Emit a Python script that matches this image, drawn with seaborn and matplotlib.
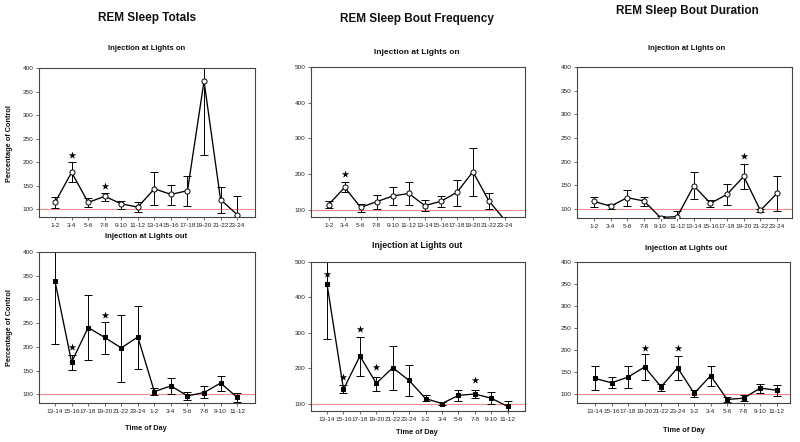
import numpy as np
import pandas as pd
import matplotlib
matplotlib.use("Agg")
import matplotlib.pyplot as plt
import seaborn as sns

# ---------------- data ----------------
labels_on = ["1-2", "3-4", "5-6", "7-8", "9-10", "11-12", "13-14", "15-16",
             "17-18", "19-20", "21-22", "23-24"]
labels_out = ["13-14", "15-16", "17-18", "19-20", "21-22", "23-24", "1-2",
              "3-4", "5-6", "7-8", "9-10", "11-12"]

totals_on = [114, 178, 114, 127, 111, 104, 143, 131, 139, 372, 120, 88]
totals_on_lo = [102, 157, 104, 118, 101, 93, 108, 108, 107, 214, 91, 48]
totals_on_hi = [125, 200, 123, 135, 118, 115, 179, 152, 171, 530, 147, 128]
totals_on_star_idx = [1, 3]
totals_on_star_y = [214, 150]

totals_out = [338, 168, 241, 220, 198, 221, 106, 118, 97, 104, 124, 94]
totals_out_lo = [207, 152, 172, 186, 127, 154, 99, 102, 88, 92, 107, 84]
totals_out_hi = [469, 184, 309, 253, 268, 286, 113, 134, 106, 117, 139, 104]
totals_out_star_idx = [1, 3]
totals_out_star_y = [200, 267]

freq_on = [114, 162, 106, 122, 138, 145, 111, 123, 148, 206, 124, 70]
freq_on_lo = [103, 149, 93, 102, 112, 114, 95, 107, 111, 138, 101, 70]
freq_on_hi = [123, 177, 115, 141, 164, 176, 126, 138, 183, 272, 147, 70]
freq_on_star_idx = [1]
freq_on_star_y = [201]

freq_out = [437, 141, 235, 158, 202, 166, 115, 101, 124, 128, 116, 93]
freq_out_lo = [282, 130, 180, 137, 139, 122, 107, 96, 109, 118, 101, 80]
freq_out_hi = [592, 152, 289, 177, 264, 209, 124, 106, 138, 138, 133, 107]
freq_out_star_idx = [0, 1, 2, 3, 9]
freq_out_star_y = [467, 177, 311, 203, 166]

dur_on = [116, 106, 124, 117, 82, 84, 149, 112, 131, 169, 97, 133]
dur_on_lo = [105, 100, 107, 107, 79, 73, 121, 104, 108, 142, 93, 96]
dur_on_hi = [126, 111, 140, 126, 85, 95, 178, 118, 153, 196, 101, 169]
dur_on_star_idx = [9]
dur_on_star_y = [213]

dur_out = [135, 125, 138, 161, 116, 159, 101, 141, 87, 90, 113, 108]
dur_out_lo = [109, 113, 113, 132, 107, 132, 92, 117, 82, 83, 101, 96]
dur_out_hi = [163, 138, 164, 190, 122, 186, 108, 164, 92, 98, 123, 120]
dur_out_star_idx = [3, 5]
dur_out_star_y = [205, 205]

REF = 100
col_titles = ["REM Sleep Totals", "REM Sleep Bout Frequency", "REM Sleep Bout Duration"]
sub_on = "Injection at Lights on"
sub_out = "Injection at Lights out"
ylabel = "Percentage of Control"
xlabel = "Time of Day"

# ---------------- style ----------------
sns.set_theme(style="white")
plt.rcParams["font.family"] = ["Liberation Sans", "DejaVu Sans"]

W, H = 800, 442
fig = plt.figure(figsize=(W / 100, H / 100), dpi=100)


def px_axes(left, top, right, bottom):
    return fig.add_axes([left / W, 1 - bottom / H, (right - left) / W, (bottom - top) / H])


panels = [
    ((39, 68, 255, 217), totals_on, totals_on_lo, totals_on_hi, totals_on_star_idx,
     totals_on_star_y, labels_on, False, (83, 400), range(100, 401, 50), (-0.97, 12.08)),
    ((39, 252, 255, 403), totals_out, totals_out_lo, totals_out_hi, totals_out_star_idx,
     totals_out_star_y, labels_out, True, (82, 400), range(100, 401, 50), (-0.97, 12.08)),
    ((311, 67, 525, 217), freq_on, freq_on_lo, freq_on_hi, freq_on_star_idx,
     freq_on_star_y, labels_on, False, (79, 500), range(100, 501, 100), (-1.1, 12.25)),
    ((311, 262, 525, 411), freq_out, freq_out_lo, freq_out_hi, freq_out_star_idx,
     freq_out_star_y, labels_out, True, (80, 500), range(100, 501, 100), (-0.98, 12.06)),
    ((577, 67, 792, 218), dur_on, dur_on_lo, dur_on_hi, dur_on_star_idx,
     dur_on_star_y, labels_on, False, (81, 400), range(100, 401, 50), (-1.02, 11.9)),
    ((577, 262, 790, 403), dur_out, dur_out_lo, dur_out_hi, dur_out_star_idx,
     dur_out_star_y, labels_out, True, (79, 400), range(100, 401, 50), (-1.09, 11.8)),
]

for (box, vals, lo, hi, sidx, sy, labs, filled, ylim, yticks, xlim) in panels:
    ax = px_axes(*box)
    x = np.arange(len(vals))
    df = pd.DataFrame({"x": x, "y": vals})
    vals_a = np.array(vals, dtype=float)
    yerr = [vals_a - np.array(lo), np.array(hi) - vals_a]
    ax.axhline(REF, color="#ff8c8c", lw=0.8, zorder=1)
    ax.errorbar(x, vals_a, yerr=yerr, fmt="none", ecolor="black", elinewidth=0.7,
                capsize=2.6, capthick=0.7, zorder=2)
    if filled:
        sns.lineplot(data=df, x="x", y="y", ax=ax, color="black", lw=0.95,
                     marker="s", markersize=3.3, markerfacecolor="black",
                     markeredgecolor="black", zorder=3)
    else:
        sns.lineplot(data=df, x="x", y="y", ax=ax, color="black", lw=0.95,
                     marker="o", markersize=3.7, markerfacecolor="white",
                     markeredgecolor="black", markeredgewidth=0.7, zorder=3)
    sdf = pd.DataFrame({"x": sidx, "y": sy})
    sns.scatterplot(data=sdf, x="x", y="y", ax=ax, marker="*", s=32, color="black",
                    linewidth=0, zorder=4)
    ax.set_xlim(*xlim)
    ax.set_ylim(*ylim)
    ax.set_xticks(x)
    ax.set_xticklabels(labs)
    ax.set_yticks(list(yticks))
    ax.set_xlabel("")
    ax.set_ylabel("")
    ax.tick_params(axis="both", which="major", labelsize=4.6, length=2, width=0.5,
                   color="#333333", pad=2, direction="out", labelcolor="#222222")
    ax.tick_params(axis="x", bottom=True, top=False)
    ax.tick_params(axis="y", left=True, right=False)
    for sp in ax.spines.values():
        sp.set_color("#444444")
        sp.set_linewidth(0.8)
        sp.set_visible(True)

# ---------------- text ----------------
title_pos = [(147, 18), (417, 19), (687, 11)]
for t, (cx, cy) in zip(col_titles, title_pos):
    fig.text(cx / W, 1 - cy / H, t, ha="center", va="center", fontsize=8.5,
             fontweight="bold", color="#111111")

for (cx, cy), fs in zip([(147, 49), (417, 52), (687, 49)], [5.5, 6.0, 5.5]):
    fig.text(cx / W, 1 - cy / H, sub_on, ha="center", va="center", fontsize=fs,
             fontweight="bold", color="#111111")
for (cx, cy), fs in zip([(146, 236), (417, 245), (686, 249)], [5.7, 6.2, 5.7]):
    fig.text(cx / W, 1 - cy / H, sub_out, ha="center", va="center", fontsize=fs,
             fontweight="bold", color="#111111")
for (cx, cy) in [(146, 428), (417, 433), (684, 431)]:
    fig.text(cx / W, 1 - cy / H, xlabel, ha="center", va="center", fontsize=5.3,
             fontweight="bold", color="#111111")
for (cx, cy) in [(10, 143), (10, 328)]:
    fig.text(cx / W, 1 - cy / H, ylabel, ha="center", va="center", fontsize=5.3,
             fontweight="bold", rotation=90, color="#111111")

fig.savefig("out.png", dpi=100)
